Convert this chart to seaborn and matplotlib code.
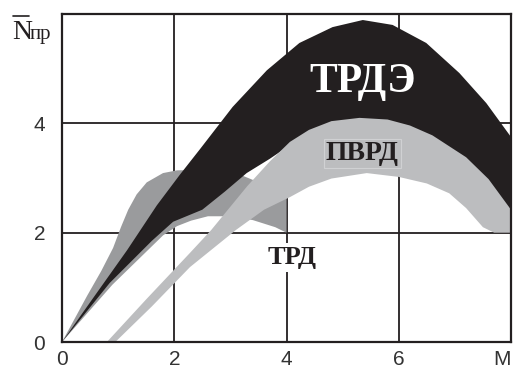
import numpy as np
import seaborn as sns
import matplotlib
matplotlib.use("Agg")
import matplotlib.pyplot as plt
from matplotlib.lines import Line2D

# ТРДЭ band (black)
trde_up_x = [0, 0.6, 1.16, 1.69, 2.1, 2.46, 3.04, 3.65, 4.23, 4.82, 5.36, 5.89, 6.49, 7.08, 7.56, 8.0]
trde_up_y = [0, 0.87, 1.68, 2.5, 3.06, 3.53, 4.3, 4.97, 5.47, 5.76, 5.89, 5.8, 5.47, 4.92, 4.37, 3.75]
trde_lo_x = [0, 0.85, 1.6, 1.98, 2.5, 2.9, 3.29, 3.7, 4.06, 4.64, 5.43, 6.0, 6.6, 7.2, 7.6, 8.0]
trde_lo_y = [0, 1.08, 1.85, 2.2, 2.42, 2.75, 3.09, 3.35, 3.6, 3.95, 4.06, 4.0, 3.75, 3.33, 2.95, 2.38]

# ТРД band (mid grey)
trd_up_x = [0, 0.45, 0.7, 0.91, 1.05, 1.18, 1.33, 1.51, 1.8, 2.05, 2.5, 2.9, 3.2, 3.6, 4.0]
trd_up_y = [0, 0.85, 1.3, 1.72, 2.1, 2.42, 2.7, 2.92, 3.09, 3.14, 3.15, 3.12, 3.05, 2.88, 2.7]
trd_lo_x = [0, 0.9, 1.8, 2.05, 2.3, 2.6, 3.0, 3.4, 3.8, 4.0]
trd_lo_y = [0, 1.05, 1.95, 2.12, 2.22, 2.3, 2.3, 2.23, 2.1, 2.0]

# ПВРД band (light grey)
pvrd_up_x = [0.8, 1.5, 2.28, 2.66, 3.3, 3.7, 4.06, 4.4, 4.8, 5.3, 5.8, 6.2, 6.6, 7.2, 7.6, 8.0]
pvrd_up_y = [0, 0.78, 1.63, 2.05, 2.85, 3.3, 3.66, 3.88, 4.04, 4.1, 4.07, 3.96, 3.78, 3.38, 2.98, 2.42]
pvrd_lo_x = [0.95, 1.6, 2.28, 3.1, 3.6, 4.06, 4.4, 4.8, 5.43, 6.0, 6.5, 6.9, 7.2, 7.5, 7.7, 8.0]
pvrd_lo_y = [0, 0.65, 1.37, 2.05, 2.42, 2.65, 2.84, 2.99, 3.09, 3.02, 2.9, 2.72, 2.45, 2.1, 2.0, 2.0]

x_ticks = [0, 2, 4, 6, 8]
x_tick_labels = ["0", "2", "4", "6", "M"]
y_ticks = [0, 2, 4]
y_tick_labels = ["0", "2", "4"]

sns.set_style("white")
plt.rcParams['font.family'] = ['Liberation Sans', 'DejaVu Sans']

fig = plt.figure(figsize=(5.18, 3.72), dpi=100)
ax = fig.add_axes([62 / 518, 30 / 372, 449 / 518, 328 / 372])

def band(ax, ux, uy, lx, ly, color, z):
    xs = list(ux) + list(lx)[::-1]
    ys = list(uy) + list(ly)[::-1]
    ax.fill(xs, ys, color=color, lw=0, zorder=z)

band(ax, trd_up_x, trd_up_y, trd_lo_x, trd_lo_y, "#9a9b9d", 2)
band(ax, trde_up_x, trde_up_y, trde_lo_x, trde_lo_y, "#231f20", 3)
band(ax, pvrd_up_x, pvrd_up_y, pvrd_lo_x, pvrd_lo_y, "#bcbdbf", 4)

for gx in [2, 4, 6]:
    ax.axvline(gx, color="#231f20", lw=1.3, zorder=1)
for gy in [2, 4]:
    ax.axhline(gy, color="#231f20", lw=1.3, zorder=1)

ax.set_xlim(0, 8)
ax.set_ylim(0, 6)
ax.set_xticks(x_ticks)
ax.set_xticklabels(x_tick_labels)
ax.set_yticks(y_ticks)
ax.set_yticklabels(y_tick_labels)
ax.tick_params(length=0, labelsize=15, labelcolor="#333333")
ax.tick_params(axis="x", pad=6)
ax.tick_params(axis="y", pad=12)
ax.get_xticklabels()[-1].set_ha("right")
for s in ax.spines.values():
    s.set_color("#231f20")
    s.set_linewidth(1.6)
    s.set_zorder(6)

serif = ['Liberation Serif', 'DejaVu Serif']
ax.text(5.36, 4.75, "ТРДЭ", color="white", fontsize=30, fontweight="bold",
        family=serif, ha="center", va="center", zorder=7)
ax.text(5.35, 3.45, "ПВРД", color="#231f20", fontsize=20, fontweight="bold",
        family=serif, ha="center", va="center", zorder=7,
        bbox=dict(facecolor="#bcbdbf", edgecolor="#d0d1d3", lw=0.8, pad=1.5))
ax.text(4.1, 1.55, "ТРД", color="#231f20", fontsize=19, fontweight="bold",
        family=serif, ha="center", va="center", zorder=7,
        bbox=dict(facecolor="white", edgecolor="none", pad=2))

fig.text(12 / 518, 1 - 39 / 372, "N", fontsize=20, family=serif,
         color="#231f20", ha="left", va="baseline")
fig.text(30 / 518, 1 - 39 / 372, "пр", fontsize=15, family=serif,
         color="#231f20", ha="left", va="baseline")
fig.add_artist(Line2D([13 / 518, 29 / 518], [1 - 16 / 372, 1 - 16 / 372],
                      color="#231f20", lw=1.2, transform=fig.transFigure))

fig.savefig("out.png", dpi=100)
